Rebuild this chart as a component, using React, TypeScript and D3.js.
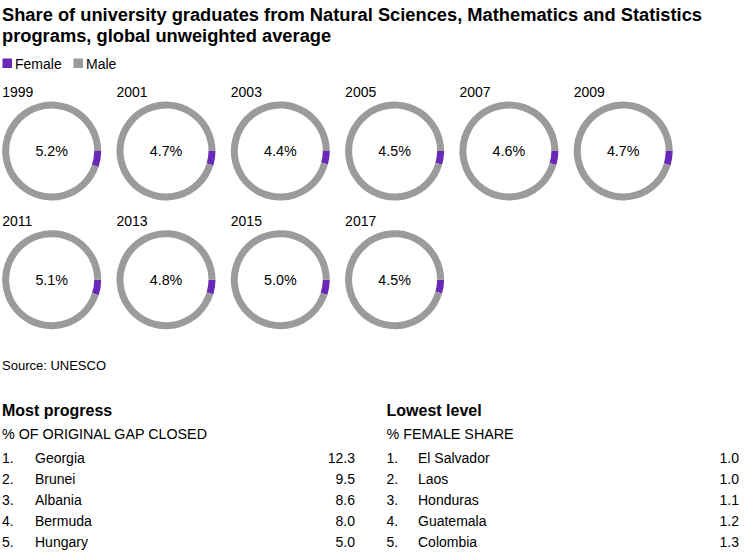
import React from "react";
import * as d3 from "d3";

const years = ["1999", "2001", "2003", "2005", "2007", "2009", "2011", "2013", "2015", "2017"];
const femaleShare = [5.2, 4.7, 4.4, 4.5, 4.6, 4.7, 5.1, 4.8, 5.0, 4.5];

const progressCountries = ["Georgia", "Brunei", "Albania", "Bermuda", "Hungary"];
const progressValues = ["12.3", "9.5", "8.6", "8.0", "5.0"];
const lowestCountries = ["El Salvador", "Laos", "Honduras", "Guatemala", "Colombia"];
const lowestValues = ["1.0", "1.0", "1.1", "1.2", "1.3"];

const PURPLE = "#6a28b8";
const GRAY = "#9b9b9b";
const FONT = "'Liberation Sans', Arial, sans-serif";

export default function App() {
  const W = 747, H = 554;
  const colX = d3.scaleLinear().domain([0, 5]).range([51.7, 623.2]);
  const rowY = d3.scaleLinear().domain([0, 1]).range([151, 279.7]);
  const rOuter = 49.5, rInner = 42.5;
  const pie = d3.pie<number>().sort(null).value((d) => d).startAngle(Math.PI / 2).endAngle(Math.PI / 2 + 2 * Math.PI);
  const arc = d3.arc<d3.PieArcDatum<number>>().innerRadius(rInner).outerRadius(rOuter);

  const rowBase = d3.scaleLinear().domain([0, 4]).range([463, 546.5]);

  const table = (x0: number, nameX: number, valX: number, title: string, sub: string, names: string[], vals: string[]) => (
    <g>
      <text x={x0} y={416} fontSize={16} fontWeight="bold" fill="#000">{title}</text>
      <text x={x0} y={438.5} fontSize={14.3} fill="#000">{sub}</text>
      {names.map((n, i) => (
        <g key={n}>
          <text x={x0} y={rowBase(i)} fontSize={14} fill="#000">{`${i + 1}.`}</text>
          <text x={nameX} y={rowBase(i)} fontSize={14} fill="#000">{n}</text>
          <text x={valX} y={rowBase(i)} fontSize={14} fill="#000" textAnchor="end">{vals[i]}</text>
        </g>
      ))}
    </g>
  );

  return (
    <div style={{ position: "absolute", left: 0, top: 0 }}>
      <svg width={W} height={H} style={{ display: "block", fontFamily: FONT }}>
        <rect width={W} height={H} fill="#fff" />
        <text x={2} y={21} fontSize={18.3} fontWeight="bold" fill="#000">
          Share of university graduates from Natural Sciences, Mathematics and Statistics
        </text>
        <text x={2} y={42} fontSize={18.3} fontWeight="bold" fill="#000">
          programs, global unweighted average
        </text>
        <rect x={2.5} y={58.5} width={9.5} height={9.5} fill={PURPLE} />
        <text x={15} y={68.5} fontSize={14} fill="#000">Female</text>
        <rect x={73.5} y={58.5} width={9.5} height={9.5} fill={GRAY} />
        <text x={86} y={68.5} fontSize={14} fill="#000">Male</text>

        {years.map((yr, i) => {
          const cx = colX(i % 6);
          const cy = rowY(Math.floor(i / 6));
          const arcs = pie([femaleShare[i], 100 - femaleShare[i]]);
          return (
            <g key={yr}>
              <text x={cx - 49.5} y={cy - 54} fontSize={14} fill="#000">{yr}</text>
              <g transform={`translate(${cx},${cy})`}>
                {arcs.map((a, j) => (
                  <path key={j} d={arc(a) || ""} fill={j === 0 ? PURPLE : GRAY} />
                ))}
                <text x={0} y={5} fontSize={14.3} textAnchor="middle" fill="#000">{`${femaleShare[i].toFixed(1)}%`}</text>
              </g>
            </g>
          );
        })}

        <text x={2} y={369.5} fontSize={13} fill="#000">Source: UNESCO</text>

        {table(2, 35, 355, "Most progress", "% OF ORIGINAL GAP CLOSED", progressCountries, progressValues)}
        {table(386.5, 418, 739, "Lowest level", "% FEMALE SHARE", lowestCountries, lowestValues)}
      </svg>
    </div>
  );
}
